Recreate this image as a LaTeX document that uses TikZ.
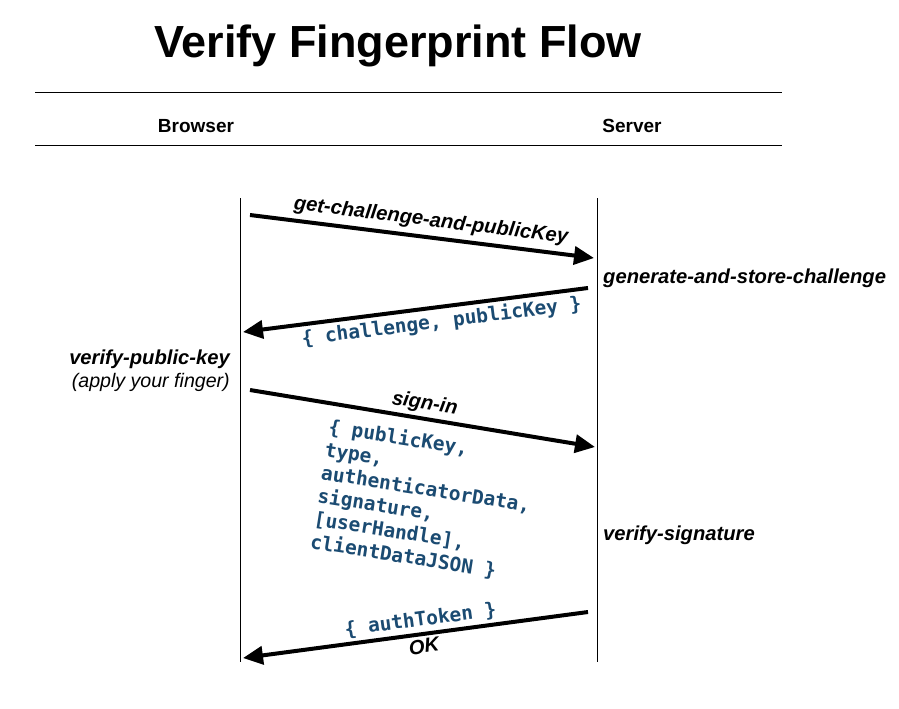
\documentclass[tikz,border=0pt]{standalone}
\usepackage{fontspec}
\setmainfont{Liberation Sans}
\newfontfamily\monofont{DejaVu Sans Mono}
\usetikzlibrary{arrows.meta}
\definecolor{codeblue}{HTML}{1B4B72}
\begin{document}
\begin{tikzpicture}[x=1pt,y=-1pt,
  msg/.style={line width=4pt, -{Triangle[length=20pt,width=18pt]}},
  life/.style={line width=1pt},
  rulel/.style={line width=0.8pt},
  lbl/.style={font=\fontsize{20.2}{24}\selectfont\bfseries\itshape, inner sep=2pt},
  note/.style={font=\fontsize{19.6}{23}\selectfont\itshape, inner sep=0pt},
  code/.style={font=\fontsize{19.5}{23.3}\selectfont\monofont\bfseries, text=codeblue, inner sep=2pt},
  head/.style={font=\fontsize{19}{23}\selectfont\bfseries, inner sep=0pt},
]
\useasboundingbox (0,0) rectangle (899,709);
\fill[white] (0,0) rectangle (899,709);

% title and header
\node[font=\fontsize{45}{54}\selectfont\bfseries, anchor=base, inner sep=0pt] (title) at (398,58) {Verify Fingerprint Flow};
\coordinate (r1l) at (35,92);  \coordinate (r1r) at (782,92);
\coordinate (r2l) at (35,145); \coordinate (r2r) at (782,145);
\draw[rulel] (r1l) -- (r1r);
\draw[rulel] (r2l) -- (r2r);
\node[head, anchor=base] (browser) at (196,132) {Browser};
\node[head, anchor=base] (server) at (632,132) {Server};

% lifelines
\coordinate (bt) at (240,198); \coordinate (bb) at (240,662);
\coordinate (st) at (597,198); \coordinate (sb) at (597,662);
\draw[life] (bt) -- (bb);
\draw[life] (st) -- (sb);

% message endpoints
\coordinate (m1s) at (250,215); \coordinate (m1e) at (594,258);
\coordinate (m2s) at (588,288); \coordinate (m2e) at (243,332);
\coordinate (m3s) at (250,390); \coordinate (m3e) at (595,447);
\coordinate (m4s) at (588,612); \coordinate (m4e) at (243,658);

\draw[msg] (m1s) -- (m1e) node[lbl, pos=0.52, sloped, above=3pt] (l1) {get-challenge-and-publicKey};
\draw[msg] (m2s) -- (m2e) node[code, pos=0.43, sloped, below=1pt] (l2) {\{ challenge, publicKey \}};
\draw[msg] (m3s) -- (m3e) node[lbl, pos=0.5, sloped, above=1pt] (l3) {sign-in};
\draw[msg] (m4s) -- (m4e) node[code, pos=0.48, sloped, above=1pt] (l4) {\{ authToken \}}
                          node[lbl, pos=0.48, sloped, below=1pt] (l5) {OK};

% body of sign-in
\node[code, rotate=-9, align=left, anchor=center] (body) at (424,501)
  {\{ publicKey,\\type,\\authenticatorData,\\signature,\\{[}userHandle{]},\\clientDataJSON \}};

% actions
\node[lbl, anchor=base west, inner sep=0pt] (gen) at (603,283) {generate-and-store-challenge};
\node[lbl, anchor=base east, inner sep=0pt] (vpk) at (230,364) {verify-public-key};
\node[note, anchor=base east] (finger) at (230,387) {(apply your finger)};
\node[lbl, anchor=base west, inner sep=0pt] (vsig) at (603,540) {verify-signature};
\end{tikzpicture}
\end{document}
